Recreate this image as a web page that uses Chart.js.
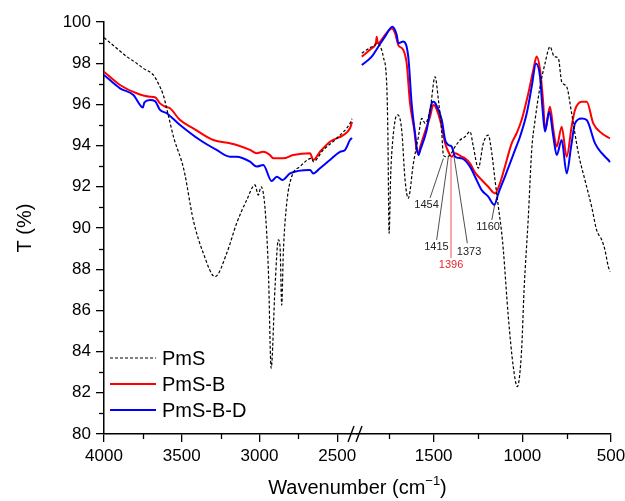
<!DOCTYPE html>
<html>
<head>
<meta charset="utf-8">
<script src="https://cdn.jsdelivr.net/npm/chart.js@4.4.1/dist/chart.umd.min.js"></script>
<style>
  html, body { margin: 0; padding: 0; background: #fff; }
  #wrap { width: 625px; height: 501px; }
</style>
</head>
<body>
<div id="wrap"><canvas id="ftirChart"></canvas></div>
<script>
// [wavenumber, T%], high-wavenumber segment and fingerprint segment
var pmsLeft = [
  [4000, 99.24], [3930, 98.8], [3854, 98.32], [3800, 98.05], [3747, 97.75], [3683, 97.43],
  [3651, 97.02], [3619, 96.46], [3587, 95.49], [3554, 94.45], [3486, 92.82], [3426, 90.39],
  [3361, 88.77], [3286, 87.64], [3211, 88.77], [3147, 90.23], [3082, 91.36], [3029, 92.09],
  [3008, 91.6], [2990, 92.0], [2965, 91.0], [2943, 87.96], [2925, 83.2], [2900, 87.15],
  [2879, 89.42], [2868, 89.1], [2857, 86.26], [2847, 88.77], [2825, 91.2], [2793, 92.49],
  [2740, 92.98], [2664, 93.38], [2654, 93.22], [2590, 93.79], [2504, 94.35], [2418, 95.08],
  [2405, 95.3]
];
var pmsRight = [
  [1905, 98.48], [1860, 98.75], [1830, 98.88], [1821, 98.97], [1800, 98.8], [1784, 98.32],
  [1764, 96.86], [1758, 94.6], [1751, 89.74], [1742, 92.6], [1736, 93.63], [1717, 95.24],
  [1702, 95.49], [1680, 94.76], [1661, 92.33], [1643, 91.44], [1614, 93.14], [1586, 94.43],
  [1567, 95.32], [1548, 95.08], [1520, 95.73], [1492, 97.34], [1473, 96.21], [1454, 94.6],
  [1445, 93.54], [1430, 93.46], [1408, 93.54], [1379, 93.95], [1351, 94.27], [1323, 94.43],
  [1295, 94.68], [1276, 93.95], [1248, 92.9], [1220, 94.11], [1192, 94.51], [1172, 93.63],
  [1154, 92.33], [1135, 91.03], [1116, 89.74], [1107, 88.93], [1079, 85.7], [1051, 83.27],
  [1028, 82.3], [1004, 84.08], [990, 87.0], [966, 90.55], [947, 93.79], [928, 95.24],
  [900, 96.86], [872, 97.99], [844, 98.8], [820, 98.32], [797, 98.24], [778, 97.1],
  [750, 96.86], [722, 95.57], [684, 93.63], [647, 92.33], [609, 91.03], [581, 89.9],
  [552, 89.42], [534, 88.93], [515, 88.12], [505, 87.88]
];
var pmsbLeft = [
  [4000, 97.59], [3897, 96.94], [3790, 96.54], [3704, 96.37], [3672, 96.35], [3640, 96.05],
  [3608, 95.89], [3576, 95.81], [3511, 95.24], [3426, 94.84], [3297, 94.27], [3190, 94.11],
  [3147, 94.03], [3061, 93.79], [3018, 93.63], [2976, 93.7], [2932, 93.54], [2911, 93.38],
  [2879, 93.38], [2847, 93.38], [2783, 93.54], [2675, 93.63], [2654, 93.3], [2611, 93.7],
  [2547, 94.19], [2461, 94.51], [2418, 94.84], [2405, 95.15]
];
var pmsbRight = [
  [1905, 98.32], [1849, 98.72], [1825, 99.0], [1821, 99.29], [1815, 98.97], [1774, 99.37],
  [1736, 99.69], [1717, 99.45], [1699, 98.88], [1671, 98.64], [1652, 97.99], [1633, 96.05],
  [1609, 94.76], [1596, 93.79], [1586, 93.63], [1575, 93.95], [1539, 94.92], [1520, 95.4],
  [1502, 95.97], [1490, 95.89], [1454, 94.92], [1435, 94.11], [1417, 93.7], [1398, 93.46],
  [1379, 93.63], [1342, 93.46], [1323, 93.38], [1295, 93.14], [1267, 92.7], [1229, 92.33],
  [1192, 92.0], [1154, 91.68], [1126, 92.17], [1098, 92.98], [1060, 94.11], [1032, 94.6],
  [1004, 95.24], [966, 96.54], [938, 97.67], [919, 98.32], [900, 97.67], [882, 96.05],
  [872, 94.76], [844, 95.89], [825, 94.76], [806, 93.95], [778, 94.92], [750, 93.46],
  [722, 94.92], [703, 95.73], [665, 96.13], [637, 96.13], [600, 95.08], [552, 94.6],
  [506, 94.35]
];
var pmsbdLeft = [
  [4000, 97.43], [3897, 96.78], [3811, 96.46], [3750, 95.85], [3740, 96.1], [3704, 96.21],
  [3672, 96.16], [3640, 95.73], [3597, 95.57], [3511, 95.0], [3383, 94.27], [3276, 93.79],
  [3190, 93.46], [3147, 93.46], [3061, 93.22], [3018, 92.98], [2976, 93.06], [2922, 92.28],
  [2889, 92.49], [2853, 92.33], [2804, 92.65], [2675, 92.82], [2654, 92.65], [2611, 92.9],
  [2547, 93.3], [2482, 93.7], [2450, 93.79], [2418, 94.27], [2405, 94.37]
];
var pmsbdRight = [
  [1905, 97.91], [1849, 98.32], [1812, 98.8], [1774, 99.29], [1733, 99.77], [1708, 99.37],
  [1699, 98.97], [1671, 99.05], [1643, 98.32], [1624, 96.05], [1605, 94.6], [1586, 93.54],
  [1575, 93.79], [1539, 94.76], [1511, 96.05], [1502, 96.13], [1490, 96.05], [1454, 95.24],
  [1435, 94.27], [1417, 94.03], [1398, 93.95], [1379, 93.46], [1342, 93.38], [1295, 92.98],
  [1267, 92.5], [1229, 91.84], [1192, 91.52], [1158, 91.12], [1135, 91.68], [1098, 92.49],
  [1041, 93.79], [1013, 94.43], [975, 95.57], [947, 96.86], [923, 97.99], [900, 97.34],
  [887, 95.89], [872, 94.68], [848, 95.65], [825, 94.43], [806, 93.54], [778, 94.27],
  [750, 92.65], [725, 93.95], [703, 95.08], [665, 95.32], [637, 95.24], [590, 94.11],
  [552, 93.63], [515, 93.3], [506, 93.2]
];

var seriesNames = ['PmS', 'PmS-B', 'PmS-B-D'];
var yTicks = [80, 82, 84, 86, 88, 90, 92, 94, 96, 98, 100];
var yMinor = [81, 83, 85, 87, 89, 91, 93, 95, 97, 99];
var xTicksLeft = [4000, 3500, 3000, 2500];
var xTicksRight = [1500, 1000, 500];
var xMinorLeft = [3750, 3250, 2750];
var xMinorRight = [1750, 1250, 750];
var peakLabels = ['1454', '1415', '1373', '1396', '1160'];

var FONT = "'Liberation Sans', Arial, Helvetica, sans-serif";

function toXY(arr) {
  return arr.map(function (p) { return { x: p[0], y: p[1] }; });
}

// label anchor and leader line ends, in data units of the right segment
var peakMarks = [
  { text: peakLabels[0], lx: 1540, ly: 91.12, x1: 1520, y1: 91.46, x2: 1445, y2: 93.38, color: '#222' },
  { text: peakLabels[1], lx: 1484, ly: 89.08, x1: 1483, y1: 89.42, x2: 1417, y2: 93.46, color: '#222' },
  { text: peakLabels[2], lx: 1300, ly: 88.83, x1: 1310, y1: 89.26, x2: 1385, y2: 93.46, color: '#222' },
  { text: peakLabels[3], lx: 1402, ly: 88.2, x1: 1402, y1: 88.54, x2: 1402, y2: 93.4, color: '#e8262a' },
  { text: peakLabels[4], lx: 1193, ly: 90.05, x1: 1172, y1: 90.39, x2: 1154, y2: 91.2, color: '#222' }
];

var extras = {
  id: 'extras',
  afterDraw: function (chart) {
    var ctx = chart.ctx, a = chart.chartArea;
    var y = chart.scales.y, xL = chart.scales.xL, xR = chart.scales.xR;
    function seg(x1, y1, x2, y2) {
      ctx.beginPath(); ctx.moveTo(x1, y1); ctx.lineTo(x2, y2); ctx.stroke();
    }
    ctx.save();
    ctx.strokeStyle = '#000';
    ctx.lineWidth = 1.3;
    yMinor.forEach(function (v) {
      var py = Math.round(y.getPixelForValue(v)) + 0.5;
      seg(a.left - 5, py, a.left, py);
    });
    xMinorLeft.forEach(function (v) {
      var px = Math.round(xL.getPixelForValue(v)) + 0.5;
      seg(px, a.bottom, px, a.bottom + 5);
    });
    xMinorRight.forEach(function (v) {
      var px = Math.round(xR.getPixelForValue(v)) + 0.5;
      seg(px, a.bottom, px, a.bottom + 5);
    });

    // axis break
    var bx = xR.left;
    ctx.lineWidth = 1.4;
    seg(bx - 9, a.bottom + 8, bx - 3, a.bottom - 8);
    seg(bx - 1, a.bottom + 8, bx + 5, a.bottom - 8);

    // peak annotations
    ctx.font = '11px ' + FONT;
    ctx.textAlign = 'center';
    ctx.textBaseline = 'middle';
    peakMarks.forEach(function (m) {
      ctx.strokeStyle = m.color;
      ctx.lineWidth = 0.8;
      seg(xR.getPixelForValue(m.x1), y.getPixelForValue(m.y1),
          xR.getPixelForValue(m.x2), y.getPixelForValue(m.y2));
      ctx.fillStyle = m.color;
      ctx.fillText(m.text, xR.getPixelForValue(m.lx), y.getPixelForValue(m.ly));
    });

    // legend
    var styles = [
      { color: '#000', dash: [3, 2], width: 1.2 },
      { color: '#ff0000', dash: [], width: 2 },
      { color: '#0000ff', dash: [], width: 2 }
    ];
    ctx.font = '20px ' + FONT;
    ctx.textAlign = 'left';
    ctx.fillStyle = '#000';
    seriesNames.forEach(function (name, i) {
      var ly = a.top + 336 + i * 26;
      ctx.strokeStyle = styles[i].color;
      ctx.lineWidth = styles[i].width;
      ctx.setLineDash(styles[i].dash);
      seg(a.left + 6, ly, a.left + 52, ly);
      ctx.setLineDash([]);
      ctx.fillText(name, a.left + 58, ly + 1);
    });

    // x axis title spanning both segments
    var cx = (a.left + a.right) / 2, ty = a.bottom + 54;
    var main = 'Wavenumber (cm', sup = '\u22121', end = ')';
    ctx.font = '20px ' + FONT;
    var w1 = ctx.measureText(main).width, w3 = ctx.measureText(end).width;
    ctx.font = '13px ' + FONT;
    var w2 = ctx.measureText(sup).width;
    var sx = cx - (w1 + w2 + w3) / 2;
    ctx.textBaseline = 'middle';
    ctx.font = '20px ' + FONT;
    ctx.fillText(main, sx, ty);
    ctx.fillText(end, sx + w1 + w2, ty);
    ctx.font = '13px ' + FONT;
    ctx.fillText(sup, sx + w1, ty - 7);
    ctx.restore();
  }
};

function plainLabel(v) { return String(v); }

function xScale(min, max, weight, majors) {
  return {
    type: 'linear',
    position: 'bottom',
    stack: 'wn',
    stackWeight: weight,
    reverse: true,
    min: min,
    max: max,
    afterBuildTicks: function (s) { s.ticks = majors.map(function (v) { return { value: v }; }); },
    afterFit: function (s) { s.height = 67; s.paddingLeft = 0; s.paddingRight = 0; },
    grid: { drawOnChartArea: false, tickLength: 8, tickColor: '#000', lineWidth: 1.3 },
    border: { color: '#000', width: 1.5 },
    ticks: { font: { size: 17, family: FONT }, color: '#000', padding: 4, maxRotation: 0, callback: plainLabel }
  };
}

var lineBase = { pointRadius: 0, fill: false, cubicInterpolationMode: 'monotone' };
function ds(data, axis, color, width, dash, order) {
  return Object.assign({}, lineBase, {
    data: toXY(data), xAxisID: axis, borderColor: color,
    borderWidth: width, borderDash: dash, order: order
  });
}

var ctx = document.getElementById('ftirChart').getContext('2d');
var ftirChart = new Chart(ctx, {
  type: 'line',
  data: {
    datasets: [
      ds(pmsLeft, 'xL', '#000', 1.2, [3, 2], 0),
      ds(pmsRight, 'xR', '#000', 1.2, [3, 2], 0),
      ds(pmsbdLeft, 'xL', '#0000ff', 2, [], 1),
      ds(pmsbdRight, 'xR', '#0000ff', 2, [], 1),
      ds(pmsbLeft, 'xL', '#ff0000', 2, [], 2),
      ds(pmsbRight, 'xR', '#ff0000', 2, [], 2)
    ]
  },
  options: {
    responsive: true,
    maintainAspectRatio: false,
    animation: false,
    layout: { padding: { left: 0, right: 14, top: 22, bottom: 0 } },
    plugins: { legend: { display: false }, tooltip: { enabled: false } },
    scales: {
      xL: xScale(2373, 4000, 253, xTicksLeft),
      xR: xScale(500, 1932, 254, xTicksRight),
      y: {
        type: 'linear',
        position: 'left',
        min: 80,
        max: 100,
        afterBuildTicks: function (s) { s.ticks = yTicks.map(function (v) { return { value: v }; }); },
        afterFit: function (s) { s.width = 104; },
        grid: { drawOnChartArea: false, tickLength: 8, tickColor: '#000', lineWidth: 1.3 },
        border: { color: '#000', width: 1.5 },
        ticks: { font: { size: 17, family: FONT }, color: '#000', padding: 5, callback: plainLabel },
        title: { display: true, text: 'T (%)', color: '#000', font: { size: 20, family: FONT }, padding: { top: 13, bottom: 0 } }
      }
    }
  },
  plugins: [extras]
});
</script>
</body>
</html>
